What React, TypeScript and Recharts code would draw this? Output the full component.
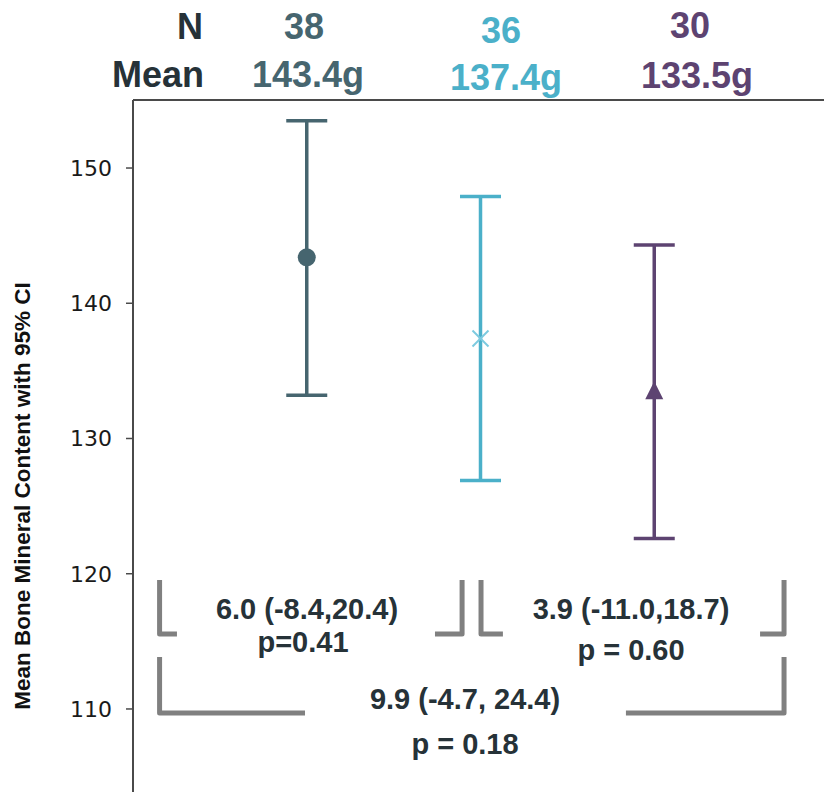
import React from "react";
import { ComposedChart, XAxis, YAxis, Scatter, ErrorBar, Line, ReferenceLine } from "recharts";

// group summaries
const nValues = [38, 36, 30];
const means = [143.4, 137.4, 133.5];
const ciLow = [133.2, 126.9, 122.6];
const ciHigh = [153.5, 147.9, 144.3];
const colors = ["#46656f", "#4bb0c9", "#5d4371"];
const markers = ["circle", "cross", "triangle"];
const yTicks = [110, 120, 130, 140, 150];
const yDomain = [103.86, 155.03];

// pairwise differences (95% CI) and p values
const diffLabels = ["6.0 (-8.4,20.4)", "3.9 (-11.0,18.7)", "9.9 (-4.7, 24.4)"];
const pLabels = ["p=0.41", "p = 0.60", "p = 0.18"];

// bracket arms, in axis units: [xOuter, xInner, yTop, yBottom]
const bracketArms = [
  [0.153, 0.253, 119.54, 115.55],
  [1.894, 1.738, 119.54, 115.55],
  [2.003, 2.129, 119.54, 115.55],
  [3.747, 3.609, 119.54, 115.55],
  [0.153, 0.99, 113.85, 109.71],
  [3.747, 2.837, 113.85, 109.71],
];

const DARK = "#263238";
const BOLD = "'Liberation Sans', Arial, sans-serif";
const AXIS = "#4a4a4a";

const seriesData = means.map((m, i) => [
  { x: i + 1, y: m, err: [m - ciLow[i], ciHigh[i] - m] },
]);

const armData = bracketArms.map(([xo, xi, yt, yb]) => [
  { x: xo, y: yt },
  { x: xo, y: yb },
  { x: xi, y: yb },
]);

const makeShape = (kind: string, color: string) => (props: any) => {
  const { cx, cy } = props;
  if (kind === "circle") return <circle cx={cx} cy={cy} r={9} fill={color} />;
  if (kind === "cross")
    return (
      <g stroke="#7ccadf" strokeWidth={2}>
        <line x1={cx - 8} y1={cy - 8} x2={cx + 8} y2={cy + 8} />
        <line x1={cx - 8} y1={cy + 8} x2={cx + 8} y2={cy - 8} />
      </g>
    );
  return (
    <path
      d={`M${cx},${cy - 10} L${cx + 9},${cy + 8} L${cx - 9},${cy + 8} Z`}
      fill={color}
    />
  );
};

const headerX = [304, 501, 690];
const headerNY = [39, 43, 38];
const meanX = [308, 506, 697];
const meanY = [87, 90, 88];

export default function App() {
  return (
    <div
      style={{
        position: "absolute",
        left: 0,
        top: 0,
        width: 824,
        height: 792,
        overflow: "hidden",
        background: "#fff",
      }}
    >
      <ComposedChart
        width={828}
        height={792}
        margin={{ top: 100, right: 0, bottom: 0, left: 0 }}
      >
        <XAxis
          type="number"
          dataKey="x"
          domain={[0, 4]}
          hide
          allowDataOverflow
        />
        <YAxis
          type="number"
          dataKey="y"
          width={133}
          domain={yDomain}
          ticks={yTicks}
          allowDataOverflow
          tickSize={7}
          tickMargin={14}
          tickLine={{ stroke: AXIS, strokeWidth: 1.5 }}
          axisLine={{ stroke: AXIS, strokeWidth: 2 }}
          tick={{ fill: "#1a1a1a", fontSize: 22, fontFamily: "'DejaVu Sans', Verdana, sans-serif" }}
        />
        <ReferenceLine y={yDomain[1]} stroke={AXIS} strokeWidth={2} ifOverflow="visible" />
        {armData.map((d, i) => (
          <Line
            key={"arm" + i}
            data={d}
            dataKey="y"
            type="linear"
            stroke="#808080"
            strokeWidth={5}
            strokeLinejoin="round"
            dot={false}
            activeDot={false}
            legendType="none"
            isAnimationActive={false}
          />
        ))}
        {seriesData.map((d, i) => (
          <Scatter
            key={"s" + i}
            data={d}
            dataKey="y"
            fill={colors[i]}
            shape={makeShape(markers[i], colors[i])}
            isAnimationActive={false}
          >
            <ErrorBar
              dataKey="err"
              direction="y"
              width={20.5}
              stroke={colors[i]}
              strokeWidth={3.5}
              isAnimationActive={false}
            />
          </Scatter>
        ))}
      </ComposedChart>
      <svg
        width={824}
        height={792}
        style={{ position: "absolute", left: 0, top: 0, pointerEvents: "none" }}
      >
        <text
          transform="translate(30,496) rotate(-90)"
          textAnchor="middle"
          fontFamily={BOLD}
          fontWeight="bold"
          fontSize={22.5}
          fill="#111"
        >
          Mean Bone Mineral Content with 95% CI
        </text>
        <g fontFamily={BOLD} fontWeight="bold" fontSize={36}>
          <text x={203} y={39} textAnchor="end" fill={DARK}>
            N
          </text>
          <text x={204} y={87} textAnchor="end" fill={DARK}>
            Mean
          </text>
          {nValues.map((n, i) => (
            <text key={"n" + i} x={headerX[i]} y={headerNY[i]} textAnchor="middle" fill={colors[i]}>
              {n}
            </text>
          ))}
          {means.map((m, i) => (
            <text key={"m" + i} x={meanX[i]} y={meanY[i]} textAnchor="middle" fill={colors[i]}>
              {m.toFixed(1) + "g"}
            </text>
          ))}
        </g>
        <g fontFamily={BOLD} fontWeight="bold" fontSize={29} fill={DARK} textAnchor="middle">
          <text x={307} y={619}>{diffLabels[0]}</text>
          <text x={303} y={652}>{pLabels[0]}</text>
          <text x={631} y={619}>{diffLabels[1]}</text>
          <text x={631} y={660}>{pLabels[1]}</text>
          <text x={465} y={709}>{diffLabels[2]}</text>
          <text x={465} y={754}>{pLabels[2]}</text>
        </g>
      </svg>
    </div>
  );
}
